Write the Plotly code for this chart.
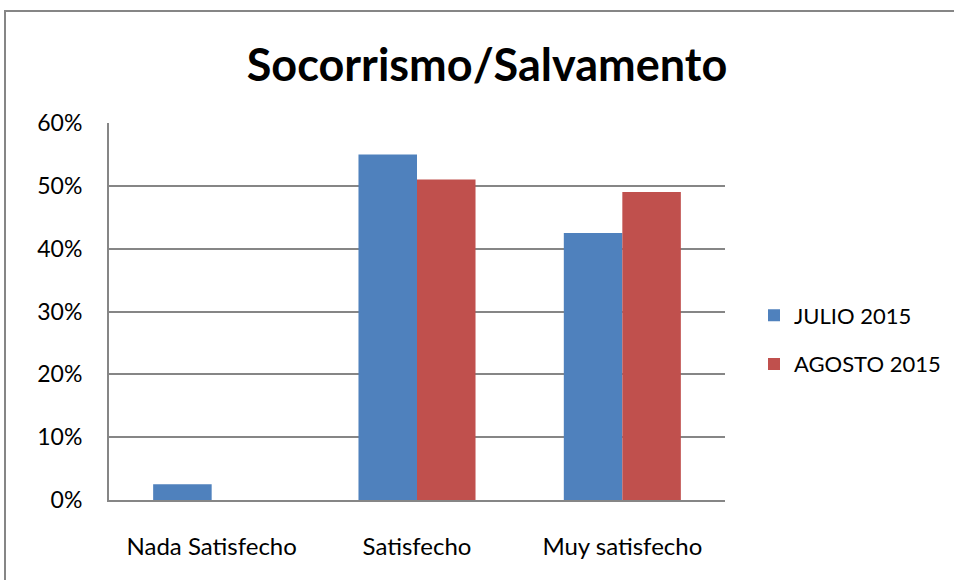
import plotly.graph_objects as go

categories = ["Nada Satisfecho", "Satisfecho", "Muy satisfecho"]
julio_2015 = [0.025, 0.55, 0.425]
agosto_2015 = [0.0, 0.51, 0.49]
series_names = ["JULIO 2015", "AGOSTO 2015"]
y_ticks = [0, 0.1, 0.2, 0.3, 0.4, 0.5, 0.6]
y_tick_labels = ["0%", "10%", "20%", "30%", "40%", "50%", "60%"]

FONT = "Lato"

fig = go.Figure()
fig.add_trace(go.Bar(x=categories, y=julio_2015, name=series_names[0], legendgroup="a",
                     marker=dict(color="#4F81BD", line=dict(width=0))))
fig.add_trace(go.Bar(x=categories, y=agosto_2015, name=series_names[1], legendgroup="b",
                     marker=dict(color="#C0504D", line=dict(width=0))))

L, R, T, B = 109, 725, 123, 500
W, H = 954, 580

def px_x(p):
    return (p - L) / (R - L)

def px_y(p):
    return (B - p) / (B - T)

fig.update_layout(
    width=W, height=H,
    margin=dict(l=L, r=W - R, t=T, b=H - B, pad=0, autoexpand=False),
    paper_bgcolor="white", plot_bgcolor="white",
    barmode="group", bargap=0.43, bargroupgap=0,
    font=dict(family=FONT, size=22, color="#000000"),
    title=dict(text="<b>Socorrismo/Salvamento</b>", x=487 / W, xanchor="center",
               y=1 - 65 / H, yanchor="middle",
               font=dict(family=FONT, size=45, color="#000000")),
    showlegend=True,
    legend=dict(xref="container", yref="container", x=754 / W, xanchor="left",
                y=1 - 340 / H, yanchor="middle",
                font=dict(family=FONT, size=22), tracegroupgap=17,
                itemwidth=30, bgcolor="rgba(0,0,0,0)"),
    xaxis=dict(showgrid=False, showline=True, linecolor="#868686", linewidth=2,
               ticks="", ticklabelstandoff=24, tickfont=dict(family=FONT, size=24)),
    yaxis=dict(range=[0, 0.6], tickvals=y_ticks, ticktext=y_tick_labels,
               showgrid=True, gridcolor="#868686", gridwidth=2,
               showline=True, linecolor="#868686", linewidth=2,
               ticks="", ticklabelstandoff=20, zeroline=False,
               tickfont=dict(family=FONT, size=23)),
    shapes=[dict(type="rect", xref="paper", yref="paper",
                 x0=px_x(5), x1=px_x(980), y0=px_y(11), y1=px_y(600),
                 line=dict(color="#868686", width=2), layer="below")],
)

fig.write_html("out.html", config={"displayModeBar": False},
               post_script="document.body.style.margin='0';")
